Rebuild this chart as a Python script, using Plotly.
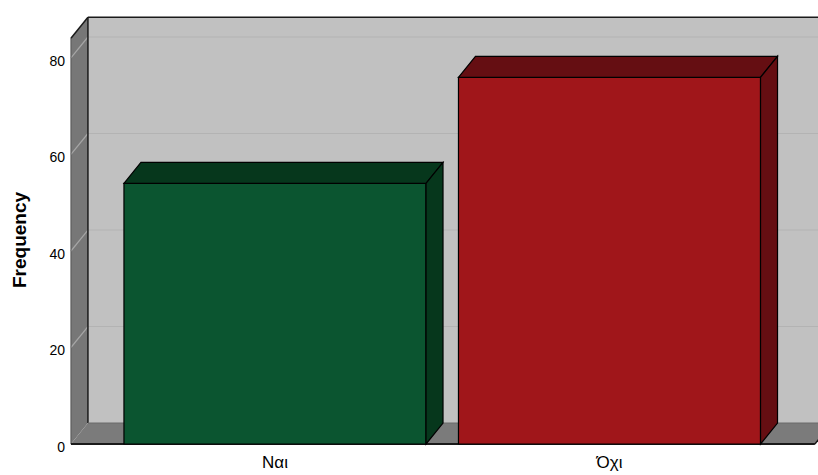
import plotly.graph_objects as go

# Data
categories = ["Ναι", "Όχι"]
frequencies = [54, 76]
y_ticks = [0, 20, 40, 60, 80]

# Styling
front_colors = ["#0B5530", "#A0161A"]
shade_colors = ["#06371C", "#650E12"]
wall_back = "#C1C1C1"
wall_side = "#777777"
floor_col = "#7B7B7B"
grid_back = "#B3B3B3"
grid_side = "#A6A6A6"

# Geometry of the pseudo-3D box (axis units)
x_pos = list(range(len(categories)))
bar_w = 0.903
dx = 0.0508          # depth offset along x
dy = 4.35            # depth offset along y
box_x0, box_x1 = -0.61, 1.614
box_top = 84.1
x_range = [-0.6158, 1.6233]
y_range = [-0.622, 88.91]

shapes = []

def poly(pts, fill, line_color=None, width=0, layer="below"):
    path = "M " + " L ".join(f"{x},{y}" for x, y in pts) + " Z"
    d = dict(type="path", path=path, xref="x", yref="y", fillcolor=fill,
             layer=layer, line=dict(width=width, color=line_color or fill))
    return d

def seg(x0, y0, x1, y1, color, width=1, layer="below"):
    return dict(type="line", x0=x0, y0=y0, x1=x1, y1=y1, xref="x", yref="y",
                layer=layer, line=dict(color=color, width=width))

# back wall
shapes.append(poly([(box_x0 + dx, dy), (box_x1 + dx, dy), (box_x1 + dx, box_top + dy),
                    (box_x0 + dx, box_top + dy)], wall_back))
# left wall
shapes.append(poly([(box_x0, 0), (box_x0, box_top), (box_x0 + dx, box_top + dy),
                    (box_x0 + dx, dy)], wall_side))
# floor
shapes.append(poly([(box_x0, 0), (box_x1, 0), (box_x1 + dx, dy), (box_x0 + dx, dy)], floor_col))

# gridlines on the walls
for v in y_ticks[1:]:
    shapes.append(seg(box_x0 + dx, v + dy, box_x1 + dx, v + dy, grid_back, 1.2))
    shapes.append(seg(box_x0, v, box_x0 + dx, v + dy, grid_side, 1.2))

# box edges
edge = "#1A1A1A"
shapes.append(seg(box_x0 + dx, box_top + dy, box_x1 + dx, box_top + dy, edge, 1.5))
shapes.append(seg(box_x0, box_top, box_x0 + dx, box_top + dy, edge, 1.5))
shapes.append(seg(box_x0 + dx, dy, box_x0 + dx, box_top + dy, edge, 1.5))
shapes.append(seg(box_x0, 0, box_x0, box_top, "#555555", 1))
shapes.append(seg(box_x0 + dx, dy, box_x1 + dx, dy, "#6A6A6A", 1))
shapes.append(seg(box_x0, 0, box_x1, 0, edge, 2))
shapes.append(seg(box_x1, 0, box_x1 + dx, dy, edge, 1.5))

# bar tops and sides
for xc, v, sc in zip(x_pos, frequencies, shade_colors):
    x0, x1 = xc - bar_w / 2, xc + bar_w / 2
    shapes.append(poly([(x0, v), (x0 + dx, v + dy), (x1 + dx, v + dy), (x1, v)],
                       sc, "#000000", 1.2, layer="above"))
    shapes.append(poly([(x1, 0), (x1 + dx, dy), (x1 + dx, v + dy), (x1, v)],
                       sc, "#000000", 1.2, layer="above"))

fig = go.Figure(go.Bar(
    x=x_pos, y=frequencies, width=bar_w,
    marker=dict(color=front_colors, line=dict(color="#000000", width=1.2)),
    hoverinfo="skip",
))

fig.update_layout(
    width=818, height=475,
    margin=dict(l=69, r=0, t=15, b=28),
    paper_bgcolor="white", plot_bgcolor="white",
    showlegend=False,
    shapes=shapes,
    font=dict(family="Liberation Sans, Arial, sans-serif", color="#000000"),
    xaxis=dict(range=x_range, tickvals=x_pos, ticktext=categories, showgrid=False,
               zeroline=False, showline=False, ticks="", tickfont=dict(size=17),
               ticklabelstandoff=3, fixedrange=True),
    yaxis=dict(range=y_range, tickvals=y_ticks, showgrid=False, zeroline=False,
               showline=False, ticks="", tickfont=dict(size=14),
               ticklabelstandoff=3, ticklabelshift=3, fixedrange=True),
    annotations=[dict(text="<b>Frequency</b>", textangle=-90, xref="paper", yref="paper",
                      x=(20 - 69) / 749, y=(447 - 240) / 432, xanchor="center",
                      yanchor="middle", showarrow=False, font=dict(size=19))],
)

fig.write_html("out.html")
